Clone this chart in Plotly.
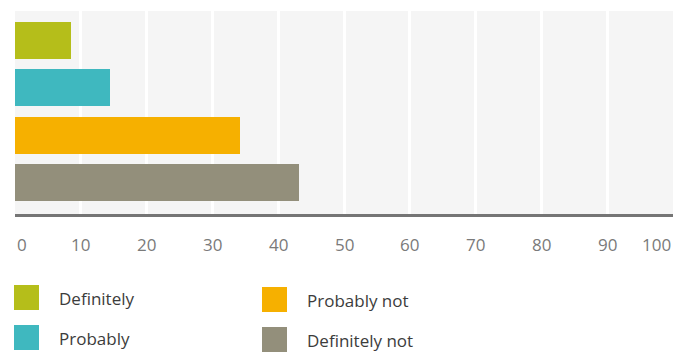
import plotly.graph_objects as go

categories = ["Definitely", "Probably", "Probably not", "Definitely not"]
values = [8.5, 14.4, 34.2, 43.2]
colors = ["#b5be1a", "#3fb8bf", "#f6b000", "#938f7b"]
tick_vals = [0, 10, 20, 30, 40, 50, 60, 70, 80, 90, 100]
tick_text = [str(v) for v in tick_vals]

W, H = 691, 352
L, R, T, B = 15, 18, 11, 138
plot_w = W - L - R
plot_h = H - T - B

def px_x(x):
    return (x - L) / plot_w

def px_y(y):
    return (H - B - y) / plot_h

fig = go.Figure()
for cat, val, col in zip(categories, values, colors):
    fig.add_trace(go.Bar(
        y=[cat], x=[val], orientation="h", name=cat,
        marker=dict(color=col, line=dict(width=0)),
        width=0.78, showlegend=False, hoverinfo="x+y",
    ))

font_family = "Open Sans, Lato, sans-serif"

annotations = []
for i, (v, t) in enumerate(zip(tick_vals, tick_text)):
    anchor = "center"
    if i == 0:
        anchor = "left"
    elif i == len(tick_vals) - 1:
        anchor = "right"
    annotations.append(dict(
        x=v, xref="x", y=px_y(244), yref="paper", text=t, showarrow=False,
        xanchor=anchor, yanchor="middle",
        font=dict(family=font_family, size=17, color="#7a7a7a"),
    ))

shapes = []
col_x = [14, 262]
row_y = [[285, 325], [287, 327]]
for i, (cat, col) in enumerate(zip(categories, colors)):
    c = i // 2
    r = i % 2
    x0 = col_x[c]
    y0 = row_y[c][r]
    shapes.append(dict(
        type="rect", xref="paper", yref="paper",
        x0=px_x(x0), x1=px_x(x0 + 25), y0=px_y(y0), y1=px_y(y0 + 25),
        fillcolor=col, line=dict(width=0),
    ))
    annotations.append(dict(
        x=px_x(x0 + 43), xref="paper", y=px_y(y0 + 13), yref="paper",
        text=cat, showarrow=False, xanchor="left", yanchor="middle",
        font=dict(family=font_family, size=17, color="#3c3c3c"),
    ))

fig.update_layout(
    width=W, height=H,
    margin=dict(l=L, r=R, t=T, b=B, pad=0),
    paper_bgcolor="white",
    plot_bgcolor="#f5f5f5",
    barmode="overlay",
    bargap=0,
    showlegend=False,
    shapes=shapes,
    annotations=annotations,
    xaxis=dict(
        range=[0, 100],
        tickvals=tick_vals[1:-1],
        showticklabels=False,
        showgrid=True, gridcolor="white", gridwidth=3,
        zeroline=False,
        showline=True, linecolor="#757575", linewidth=3,
        ticks="",
        fixedrange=True,
    ),
    yaxis=dict(
        type="category",
        categoryorder="array", categoryarray=categories,
        range=[3.666, -0.623],
        showticklabels=False, showgrid=False, zeroline=False,
        showline=False, ticks="",
        fixedrange=True,
    ),
)

fig.write_html(
    "out.html",
    config={"displayModeBar": False},
    post_script="document.body.style.margin='0';document.body.style.overflow='hidden';",
)
